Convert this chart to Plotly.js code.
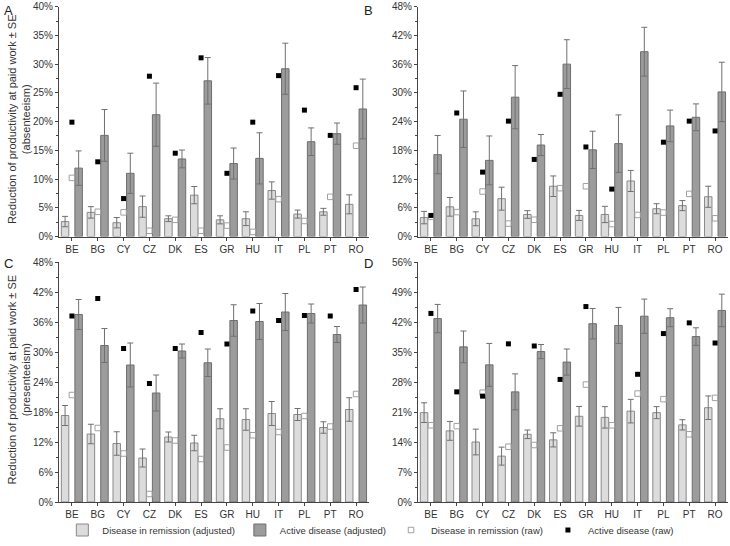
<!DOCTYPE html>
<html>
<head>
<meta charset="utf-8">
<script src="https://cdn.plot.ly/plotly-3.0.1.min.js"></script>
<style>html,body{margin:0;padding:0;background:#fff;}#chart{width:730px;height:546px;}</style>
</head>
<body>
<div id="chart"></div>
<script>
var countries = ['BE','BG','CY','CZ','DK','ES','GR','HU','IT','PL','PT','RO'];

// Panel A: absenteeism
var remAdjA = [2.6, 4.2, 2.4, 5.2, 3.1, 7.2, 2.9, 3.1, 8.0, 3.9, 4.3, 5.6];
var remSeA  = [0.9, 1.0, 0.9, 1.85, 0.5, 1.5, 0.7, 1.2, 1.5, 0.7, 0.6, 1.65];
var actAdjA = [11.9, 17.6, 11.0, 21.2, 13.5, 27.1, 12.7, 13.6, 29.2, 16.5, 17.9, 22.2];
var actSeA  = [3.0, 4.5, 3.5, 5.5, 1.55, 4.05, 2.7, 4.45, 4.45, 2.4, 1.85, 5.2];
var remRawA = [10.2, 4.3, 4.2, 1.0, 2.9, 1.0, 1.9, 0.8, 6.5, 2.7, 6.9, 15.8];
var actRawA = [19.9, 13.0, 6.6, 27.9, 14.5, 31.1, 11.0, 19.9, 28.0, 22.0, 17.6, 25.9];

// Panel B
var remAdjB = [3.95, 6.2, 3.7, 7.9, 4.6, 10.5, 4.4, 4.6, 11.6, 5.8, 6.45, 8.3];
var remSeB  = [1.3, 1.95, 1.45, 2.4, 0.8, 2.15, 1.05, 1.7, 2.2, 1.05, 1.05, 2.2];
var actAdjB = [17.1, 24.5, 15.9, 29.1, 19.1, 36.0, 18.1, 19.4, 38.6, 23.1, 24.9, 30.2];
var actSeB  = [4.0, 5.9, 5.1, 6.6, 2.2, 5.1, 3.9, 6.0, 5.1, 3.3, 2.8, 6.2];
var remRawB = [4.1, 5.1, 9.4, 2.7, 3.5, 10.1, 10.5, 2.6, 4.5, 5.0, 8.9, 3.8];
var actRawB = [4.4, 25.8, 13.45, 24.1, 16.1, 29.7, 18.7, 9.9, null, 19.7, 24.1, 22.05];

// Panel C: presenteeism
var remAdjC = [17.3, 13.6, 11.7, 8.8, 13.0, 11.8, 16.65, 16.5, 17.7, 17.5, 14.9, 18.5];
var remSeC  = [2.0, 1.95, 2.35, 1.8, 1.0, 1.55, 2.0, 2.15, 2.4, 1.2, 1.15, 2.35];
var actAdjC = [37.5, 31.3, 27.4, 21.8, 30.2, 27.85, 36.3, 36.1, 38.0, 37.7, 33.5, 39.4];
var actSeC  = [3.0, 3.4, 4.4, 3.6, 1.4, 2.75, 3.15, 3.6, 3.7, 1.9, 1.6, 3.6];
var remRawC = [21.4, 14.8, 9.7, 1.6, 12.3, 8.6, 10.9, 13.35, 14.0, 17.2, 15.1, 21.6];
var actRawC = [37.2, 40.7, 30.7, 23.7, 30.7, 33.9, 31.6, 38.2, 36.3, 37.3, 37.2, 42.5];

// Panel D
var remAdjD = [20.85, 16.6, 14.0, 10.7, 15.8, 14.5, 20.0, 19.75, 21.2, 20.85, 18.0, 22.0];
var remSeD  = [2.3, 2.2, 3.0, 2.1, 1.0, 1.65, 2.3, 2.5, 2.75, 1.4, 1.2, 2.75];
var actAdjD = [42.8, 36.2, 32.0, 25.7, 35.1, 32.65, 41.6, 41.2, 43.35, 43.0, 38.6, 44.7];
var actSeD  = [3.3, 3.7, 5.0, 4.2, 1.65, 3.05, 3.55, 4.2, 4.0, 2.1, 2.05, 3.8];
var remRawD = [17.9, 17.7, 25.5, 12.9, 13.3, 17.2, 27.4, 17.9, 25.3, 24.0, 15.8, 24.3];
var actRawD = [44.0, 25.7, 24.7, 36.9, 36.4, 28.6, 45.6, null, 29.8, 39.3, 41.8, 37.1];

var seriesNames = ['Disease in remission (adjusted)', 'Active disease (adjusted)', 'Disease in remission (raw)', 'Active disease (raw)'];
var yMax = [40, 48, 48, 56];
var yStep = [5, 6, 6, 7];
var panelLetters = ['A', 'B', 'C', 'D'];

var panels = [
  {remAdj: remAdjA, remSe: remSeA, actAdj: actAdjA, actSe: actSeA, remRaw: remRawA, actRaw: actRawA},
  {remAdj: remAdjB, remSe: remSeB, actAdj: actAdjB, actSe: actSeB, remRaw: remRawB, actRaw: actRawB},
  {remAdj: remAdjC, remSe: remSeC, actAdj: actAdjC, actSe: actSeC, remRaw: remRawC, actRaw: actRawC},
  {remAdj: remAdjD, remSe: remSeD, actAdj: actAdjD, actSe: actSeD, remRaw: remRawD, actRaw: actRawD}
];

var W = 730, H = 546;
// pixel boxes [x0, x1, yTop, yBottom]
var boxes = [[59, 369, 6.7, 236.5], [418, 728, 6.7, 236.5], [59, 369, 262, 502], [418, 728, 262, 502]];

var FONT = 'Liberation Sans, Arial, sans-serif';
var errColor = '#707070';
var traces = [];
panels.forEach(function (p, i) {
  var sfx = i === 0 ? '' : String(i + 1);
  var xa = 'x' + sfx, ya = 'y' + sfx;
  var show = i === 0;
  traces.push({
    type: 'bar', x: countries, y: p.remAdj, xaxis: xa, yaxis: ya,
    name: seriesNames[0], legendgroup: 'a', showlegend: show,
    offset: -0.41, width: 0.29,
    marker: {color: '#dcdcdc', line: {color: '#8a8a8a', width: 1}},
    error_y: {type: 'data', array: p.remSe, visible: true, color: errColor, thickness: 1, width: 3}
  });
  traces.push({
    type: 'bar', x: countries, y: p.actAdj, xaxis: xa, yaxis: ya,
    name: seriesNames[1], legendgroup: 'b', showlegend: show,
    offset: 0.115, width: 0.29,
    marker: {color: '#9c9c9c', line: {color: '#6e6e6e', width: 1}},
    error_y: {type: 'data', array: p.actSe, visible: true, color: errColor, thickness: 1, width: 3}
  });
  traces.push({
    type: 'scatter', mode: 'markers', x: countries, y: p.remRaw, xaxis: xa, yaxis: ya,
    name: seriesNames[2], legendgroup: 'c', showlegend: show, cliponaxis: false,
    marker: {symbol: 'square-open', size: 5.5, color: '#a0a0a0', line: {width: 1}}
  });
  traces.push({
    type: 'scatter', mode: 'markers', x: countries, y: p.actRaw, xaxis: xa, yaxis: ya,
    name: seriesNames[3], legendgroup: 'd', showlegend: show, cliponaxis: false,
    marker: {symbol: 'square', size: 5, color: '#000000'}
  });
});

var layout = {
  width: W, height: H,
  margin: {l: 0, r: 0, t: 0, b: 0},
  paper_bgcolor: '#ffffff', plot_bgcolor: '#ffffff',
  barmode: 'overlay',
  showlegend: true,
  font: {family: FONT, size: 10, color: '#333333'},
  legend: {
    orientation: 'h', x: 0.508, xanchor: 'center', y: 1 - 530 / H, yanchor: 'middle',
    font: {family: FONT, size: 9.5, color: '#333333'}, traceorder: 'normal',
    bgcolor: 'rgba(0,0,0,0)'
  },
  annotations: []
};

boxes.forEach(function (b, i) {
  var sfx = i === 0 ? '' : String(i + 1);
  layout['xaxis' + sfx] = {
    domain: [b[0] / W, b[1] / W], anchor: 'y' + sfx,
    type: 'category', range: [-0.5, 11.5],
    showline: true, linecolor: '#444444', linewidth: 1,
    ticks: 'outside', ticklen: 3, tickcolor: '#444444',
    showgrid: false, zeroline: false,
    tickfont: {family: FONT, size: 10, color: '#333333'}, fixedrange: true
  };
  layout['yaxis' + sfx] = {
    domain: [1 - b[3] / H, 1 - b[2] / H], anchor: 'x' + sfx,
    range: [0, yMax[i]], dtick: yStep[i], tick0: 0, ticksuffix: '%',
    showline: true, linecolor: '#444444', linewidth: 1,
    ticks: 'outside', ticklen: 3, tickcolor: '#444444',
    minor: {ticks: 'outside', ticklen: 2, dtick: yStep[i] / 2, tickcolor: '#444444', showgrid: false},
    showgrid: false, zeroline: false,
    tickfont: {family: FONT, size: 10, color: '#333333'}, fixedrange: true
  };
  layout.annotations.push({
    text: panelLetters[i], xref: 'paper', yref: 'paper',
    x: (i % 2 === 0 ? 2 : 362) / W, y: 1 - (i < 2 ? 1 : 254) / H,
    xanchor: 'left', yanchor: 'top', showarrow: false,
    font: {family: FONT, size: 13, color: '#222222'}
  });
});

var yTitles = ['Reduction of productivity at paid work ± SE<br>(absenteeism)', 'Reduction of productivity at paid work ± SE<br>(presenteeism)'];
[[6.7, 236.5], [262, 502]].forEach(function (r, k) {
  layout.annotations.push({
    text: yTitles[k], xref: 'paper', yref: 'paper',
    x: 18.5 / W, y: 1 - ((r[0] + r[1]) / 2 - 2) / H,
    xanchor: 'center', yanchor: 'middle', textangle: -90, showarrow: false,
    font: {family: FONT, size: 11, color: '#333333'}
  });
});

Plotly.newPlot('chart', traces, layout, {staticPlot: true, displayModeBar: false});
</script>
</body>
</html>
